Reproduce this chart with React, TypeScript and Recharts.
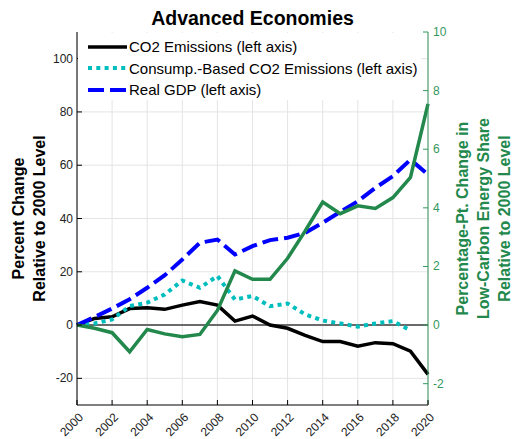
import { CartesianGrid, ComposedChart, Label, Legend, Line, ReferenceLine, XAxis, YAxis } from "recharts";

const YEARS = [
  2000, 2001, 2002, 2003, 2004, 2005, 2006, 2007, 2008, 2009, 2010,
  2011, 2012, 2013, 2014, 2015, 2016, 2017, 2018, 2019, 2020,
];
const CO2 = [0, 2.5, 3.1, 6.2, 6.5, 5.9, 7.5, 8.8, 7.5, 1.5, 3.4, 0, -1.2, -3.9, -6.2, -6.2, -7.9, -6.6, -7, -9.8, -18.5];
const CONSUMPTION_CO2 = [0, 0.6, 2.1, 7.1, 8.4, 11.5, 16.7, 14, 18.4, 9.6, 10.9, 7.1, 8.1, 4, 1.7, 0.6, -0.6, 0.6, 1.5, -2, null];
const REAL_GDP = [0, 3, 6.2, 9.7, 14, 18.7, 24.6, 30.9, 32.1, 26.5, 29.6, 31.9, 32.8, 34.6, 38.4, 42.5, 46.5, 51.5, 55.9, 62.1, 56.5];
const LOW_CARBON_SHARE = [0, -0.11, -0.26, -0.91, -0.15, -0.3, -0.4, -0.32, 0.5, 1.85, 1.56, 1.56, 2.28, 3.21, 4.2, 3.8, 4.07, 3.98, 4.35, 5.04, 7.55];

const X_TICKS = [2000, 2002, 2004, 2006, 2008, 2010, 2012, 2014, 2016, 2018, 2020];
const LEFT_TICKS = [-20, 0, 20, 40, 60, 80, 100];
const RIGHT_TICKS = [-2, 0, 2, 4, 6, 8, 10];

const rows = YEARS.map((year, i) => ({
  year,
  co2: CO2[i],
  consumption: CONSUMPTION_CO2[i],
  gdp: REAL_GDP[i],
  lowCarbon: LOW_CARBON_SHARE[i],
}));

const FONT = '"Liberation Sans", Arial, Helvetica, sans-serif';
const GREEN = "#22884c";
const GREEN_AXIS = "#35975d";

const LEGEND_ITEMS = [
  { label: "CO2 Emissions (left axis)", color: "#000000", width: 3.5, dash: undefined },
  { label: "Consump.-Based CO2 Emissions (left axis)", color: "#00bebe", width: 4, dash: "4 4.3" },
  { label: "Real GDP (left axis)", color: "#0000ff", width: 4, dash: "16 6" },
];

// white box in the upper-left corner of the plot, hides the grid behind it
function LegendBox() {
  return (
    <div style={{ background: "#fff", width: 343, height: 67, paddingTop: 3, boxSizing: "border-box", fontFamily: FONT, fontSize: 15, color: "#000" }}>
      {LEGEND_ITEMS.map((item) => (
        <div key={item.label} style={{ display: "flex", alignItems: "center", height: 21.5, whiteSpace: "nowrap" }}>
          <svg width={51} height={10} style={{ flex: "none" }}>
            <line x1={10} x2={49} y1={5} y2={5} stroke={item.color} strokeWidth={item.width} strokeDasharray={item.dash} />
          </svg>
          <span>{item.label}</span>
        </div>
      ))}
    </div>
  );
}

// ticks point inward, labels sit outside the box
function LeftTick({ x, y, payload }: any) {
  return (
    <g>
      <line x1={x} x2={x + 5} y1={y} y2={y} stroke="#000" />
      <text x={x - 4} y={y + 4} textAnchor="end" fontSize={12} fontFamily={FONT} fill="#222">
        {payload.value}
      </text>
    </g>
  );
}

function RightTick({ x, y, payload }: any) {
  return (
    <g>
      <line x1={x - 5} x2={x} y1={y} y2={y} stroke={GREEN_AXIS} />
      <text x={x + 5} y={y + 4} textAnchor="start" fontSize={12} fontFamily={FONT} fill={GREEN_AXIS}>
        {payload.value}
      </text>
    </g>
  );
}

function BottomTick({ x, y, payload }: any) {
  return (
    <g>
      <line x1={x} x2={x} y1={y} y2={y - 5} stroke="#000" />
      <text
        x={x + 7}
        y={y + 13}
        textAnchor="end"
        fontSize={12}
        fontFamily={FONT}
        fill="#222"
        transform={`rotate(-45 ${x + 7} ${y + 13})`}
      >
        {payload.value}
      </text>
    </g>
  );
}

function TopTick({ x, y }: any) {
  return <line x1={x} x2={x} y1={y} y2={y + 5} stroke="#555" />;
}

function AxisTitle({ viewBox, lines, offsets, color }: any) {
  const cy = viewBox.y + viewBox.height / 2;
  return (
    <g>
      {lines.map((line: string, i: number) => {
        const tx = viewBox.x + offsets[i];
        return (
          <text
            key={line}
            x={tx}
            y={cy}
            textAnchor="middle"
            fontSize={16}
            fontWeight="bold"
            fontFamily={FONT}
            fill={color}
            transform={`rotate(-90 ${tx} ${cy})`}
          >
            {line}
          </text>
        );
      })}
    </g>
  );
}

export default function App() {
  return (
    <div style={{ position: "absolute", left: 0, top: 0, width: 513, height: 439, background: "#fff" }}>
      <div
        style={{
          position: "absolute",
          left: 77,
          width: 351,
          top: 9,
          textAlign: "center",
          fontFamily: FONT,
          fontWeight: "bold",
          fontSize: 19.5,
          lineHeight: "19px",
          color: "#000",
        }}
      >
        Advanced Economies
      </div>
      <ComposedChart width={513} height={439} data={rows} margin={{ top: 32, right: 0, bottom: 0, left: 0 }}>
        <CartesianGrid xAxisId="x" yAxisId="left" stroke="#e4e4e4" horizontalValues={LEFT_TICKS} verticalValues={X_TICKS} />
        <XAxis
          xAxisId="x"
          dataKey="year"
          type="number"
          domain={[2000, 2020]}
          ticks={X_TICKS}
          height={34}
          tickSize={0}
          tickMargin={0}
          tickLine={false}
          axisLine={{ stroke: "#000", strokeWidth: 1 }}
          tick={<BottomTick />}
          interval={0}
        />
        <XAxis
          xAxisId="top"
          orientation="top"
          dataKey="year"
          type="number"
          domain={[2000, 2020]}
          ticks={X_TICKS}
          height={0}
          tickSize={0}
          tickMargin={0}
          tickLine={false}
          axisLine={{ stroke: "#555", strokeWidth: 1 }}
          tick={<TopTick />}
          interval={0}
        />
        <YAxis
          yAxisId="left"
          domain={[-30, 110]}
          ticks={LEFT_TICKS}
          width={77}
          tickSize={0}
          tickMargin={0}
          tickLine={false}
          axisLine={{ stroke: "#000", strokeWidth: 1 }}
          tick={<LeftTick />}
          interval={0}
        >
          <Label
            content={(props: any) => (
              <AxisTitle
                viewBox={props.viewBox}
                lines={["Percent Change", "Relative to 2000 Level"]}
                offsets={[24, 45]}
                color="#000"
              />
            )}
          />
        </YAxis>
        <YAxis
          yAxisId="right"
          orientation="right"
          domain={[-30 / 11, 10]}
          ticks={RIGHT_TICKS}
          width={85}
          tickSize={0}
          tickMargin={0}
          tickLine={false}
          axisLine={{ stroke: GREEN_AXIS, strokeWidth: 1 }}
          tick={<RightTick />}
          interval={0}
        >
          <Label
            content={(props: any) => (
              <AxisTitle
                viewBox={props.viewBox}
                lines={["Percentage-Pt. Change in", "Low-Carbon Energy Share", "Relative to 2000 Level"]}
                offsets={[40, 61, 82]}
                color={GREEN}
              />
            )}
          />
        </YAxis>
        <ReferenceLine xAxisId="x" yAxisId="left" y={0} stroke="#6a6a6a" strokeWidth={2} />
        <Line xAxisId="x" yAxisId="left" dataKey="co2" stroke="#000" strokeWidth={3.5} dot={false} activeDot={false} isAnimationActive={false} />
        <Line
          xAxisId="x"
          yAxisId="left"
          dataKey="consumption"
          stroke="#00bebe"
          strokeWidth={4}
          strokeDasharray="4 4.3"
          dot={false}
          activeDot={false}
          isAnimationActive={false}
        />
        <Line
          xAxisId="x"
          yAxisId="left"
          dataKey="gdp"
          stroke="#0000ff"
          strokeWidth={4}
          strokeDasharray="16 6"
          dot={false}
          activeDot={false}
          isAnimationActive={false}
        />
        <Line xAxisId="x" yAxisId="right" dataKey="lowCarbon" stroke={GREEN} strokeWidth={3.5} dot={false} activeDot={false} isAnimationActive={false} />
        <Legend
          layout="vertical"
          align="center"
          verticalAlign="middle"
          content={<LegendBox />}
          wrapperStyle={{ left: 78, top: 33, width: 343, height: 67 }}
        />
      </ComposedChart>
    </div>
  );
}
